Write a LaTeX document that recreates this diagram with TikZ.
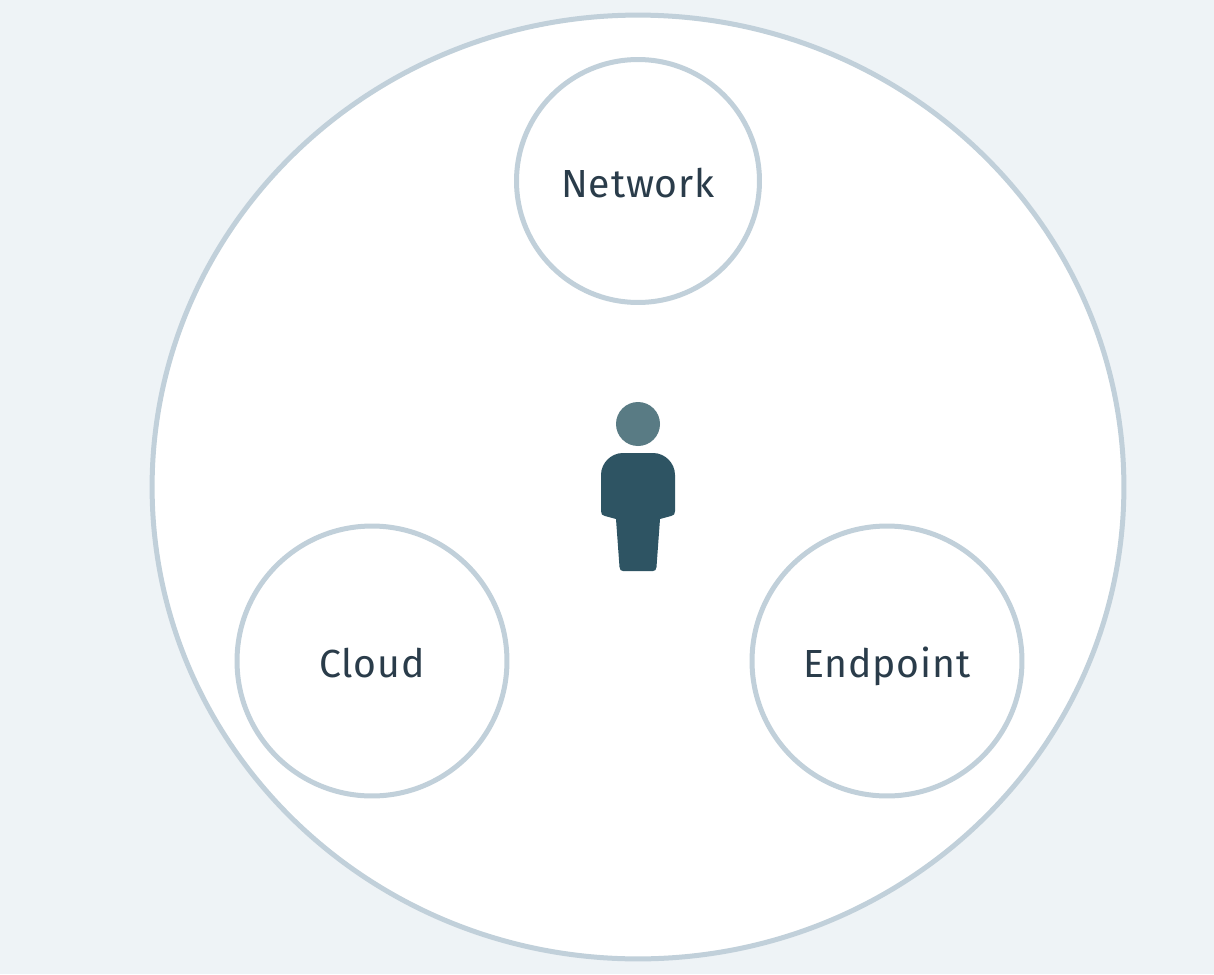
\documentclass[tikz,border=0pt]{standalone}
\usepackage{fontspec}
\setmainfont{Fira Sans}
\usetikzlibrary{shapes.geometric}
\definecolor{pagebg}{HTML}{EEF3F6}
\definecolor{ringline}{HTML}{C1D0DA}
\definecolor{labeltext}{HTML}{2A3C4A}
\definecolor{headfill}{HTML}{597B84}
\definecolor{bodyfill}{HTML}{2E5463}
\begin{document}
\begin{tikzpicture}[x=0.02cm,y=-0.02cm,
    ring/.style={circle,draw=ringline,line width=0.1cm,fill=white,inner sep=0pt,outer sep=0pt,text=labeltext,text height=0.64cm,text depth=0cm,font=\fontsize{22.3}{26}\selectfont\addfontfeatures{LetterSpace=2}}]
    \fill[pagebg] (0,0) rectangle (1214,974);
    \useasboundingbox (0,0) rectangle (1214,974);

    \node (outer) at (638,487) [ellipse,draw=ringline,line width=0.1cm,fill=white,inner sep=0pt,outer sep=0pt,minimum width=19.44cm,minimum height=18.88cm] {};
    \node (network) at (638,181) [ring,minimum size=4.86cm] {Network};
    \node (cloud) at (372,661) [ring,minimum size=5.4cm] {Cloud};
    \node (endpoint) at (887,661) [ring,minimum size=5.4cm] {Endpoint};

    \node (head) at (638,424) [circle,fill=headfill,inner sep=0pt,minimum size=0.88cm] {};
    \fill[bodyfill] (623,453) -- (653,453) .. controls (665,453) and (675,463) .. (675,475) -- (675,511)
      .. controls (675,514) and (674,515.5) .. (671,516) -- (660,519) -- (656.5,567)
      .. controls (656.3,570) and (655,571) .. (653,571) -- (623,571)
      .. controls (621,571) and (619.7,570) .. (619.5,567) -- (616,519) -- (605,516)
      .. controls (602,515.5) and (601,514) .. (601,511) -- (601,475)
      .. controls (601,463) and (611,453) .. (623,453) -- cycle;
\end{tikzpicture}
\end{document}
